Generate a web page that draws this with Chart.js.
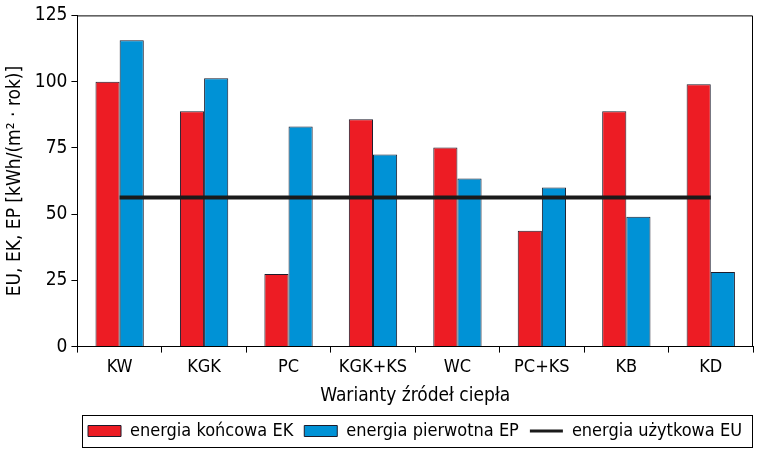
<!DOCTYPE html>
<html>
<head>
<meta charset="utf-8">
<script src="https://cdn.jsdelivr.net/npm/chart.js@4/dist/chart.umd.min.js"></script>
<style>
  html, body { margin: 0; padding: 0; background: #ffffff; }
  #wrap { width: 760px; height: 452px; position: relative; }
</style>
</head>
<body>
<div id="wrap"><canvas id="chart"></canvas></div>
<script>
const categories = ['KW', 'KGK', 'PC', 'KGK+KS', 'WC', 'PC+KS', 'KB', 'KD'];
const energiaKoncowa = [100, 88.8, 27.4, 85.8, 75.1, 43.7, 88.8, 99];
const energiaPierwotna = [115.6, 101.3, 83.1, 72.5, 63.4, 60, 49, 28.2];
const energiaUzytkowa = [56.3, 56.3, 56.3, 56.3, 56.3, 56.3, 56.3, 56.3];
const yTicks = [0, 25, 50, 75, 100, 125];

const FONT = "'DejaVu Sans Condensed', 'Liberation Sans Narrow', sans-serif";

// frame around the plot area and box around the legend
const framePlugin = {
    id: 'frame',
    afterDraw(chart) {
        const ctx = chart.ctx;
        const a = chart.chartArea;
        ctx.save();
        ctx.strokeStyle = '#000';
        ctx.lineWidth = 1;
        ctx.beginPath();
        ctx.moveTo(a.left, a.top + 0.5);
        ctx.lineTo(a.right - 0.5, a.top + 0.5);
        ctx.lineTo(a.right - 0.5, a.bottom);
        ctx.stroke();

        const boxes = chart.legend.legendHitBoxes;
        if (boxes && boxes.length) {
            const left = Math.min(...boxes.map(b => b.left)) - 6;
            const right = Math.max(...boxes.map(b => b.left + b.width)) + 10;
            const cy = boxes[0].top + boxes[0].height / 2;
            ctx.strokeRect(Math.round(left) + 0.5, Math.round(cy - 16) + 0.5, Math.round(right - left), 32);
        }
        ctx.restore();
    }
};

new Chart(document.getElementById('chart'), {
    data: {
        labels: categories,
        datasets: [
            {
                type: 'bar',
                label: 'energia końcowa EK',
                data: energiaKoncowa,
                backgroundColor: '#ED1C24',
                borderColor: '#1c1c2c',
                borderWidth: 1,
                order: 1,
            },
            {
                type: 'bar',
                label: 'energia pierwotna EP',
                data: energiaPierwotna,
                backgroundColor: '#0092D6',
                borderColor: '#1c1c2c',
                borderWidth: 1,
                order: 1,
            },
            {
                type: 'line',
                label: 'energia użytkowa EU',
                data: energiaUzytkowa,
                borderColor: '#1a1a1a',
                backgroundColor: '#1a1a1a',
                borderWidth: 4,
                pointRadius: 0,
                order: 0,
            },
        ]
    },
    options: {
        responsive: true,
        maintainAspectRatio: false,
        animation: false,
        datasets: {
            bar: {
                categoryPercentage: 0.572,
                barPercentage: 1,
            }
        },
        layout: {
            padding: { top: 15, right: 7, left: 4, bottom: 2 }
        },
        plugins: {
            tooltip: { enabled: false },
            legend: {
                position: 'bottom',
                align: 'end',
                labels: {
                    color: '#000',
                    font: { family: FONT, size: 18 },
                    usePointStyle: true,
                    pointStyleWidth: 33,
                    boxHeight: 11,
                    padding: 11,
                    sort: (a, b) => a.datasetIndex - b.datasetIndex,
                    generateLabels: (chart) => {
                        const items = Chart.defaults.plugins.legend.labels.generateLabels(chart);
                        items.forEach(item => {
                            const isLine = chart.data.datasets[item.datasetIndex].type === 'line';
                            item.pointStyle = isLine ? 'line' : 'rect';
                            item.lineWidth = isLine ? 3 : 1;
                        });
                        return items;
                    }
                }
            }
        },
        scales: {
            x: {
                offset: true,
                grid: {
                    offset: true,
                    drawOnChartArea: false,
                    tickLength: 6,
                    color: '#000',
                },
                border: { color: '#000', width: 1 },
                ticks: {
                    color: '#000',
                    font: { family: FONT, size: 18 },
                    padding: 4,
                },
                title: {
                    display: true,
                    text: 'Warianty źródeł ciepła',
                    color: '#000',
                    font: { family: FONT, size: 19 },
                    padding: { top: 2, bottom: 4 },
                }
            },
            y: {
                min: 0,
                max: 125,
                afterBuildTicks: (axis) => {
                    axis.ticks = yTicks.map(v => ({ value: v }));
                },
                grid: {
                    drawOnChartArea: false,
                    tickLength: 6,
                    color: '#000',
                },
                border: { color: '#000', width: 1 },
                ticks: {
                    color: '#000',
                    font: { family: FONT, size: 19 },
                    padding: 4,
                },
                title: {
                    display: true,
                    text: 'EU, EK, EP [kWh/(m² · rok)]',
                    color: '#000',
                    font: { family: FONT, size: 19 },
                    padding: { top: 0, bottom: 4 },
                }
            }
        }
    },
    plugins: [framePlugin]
});
</script>
</body>
</html>
